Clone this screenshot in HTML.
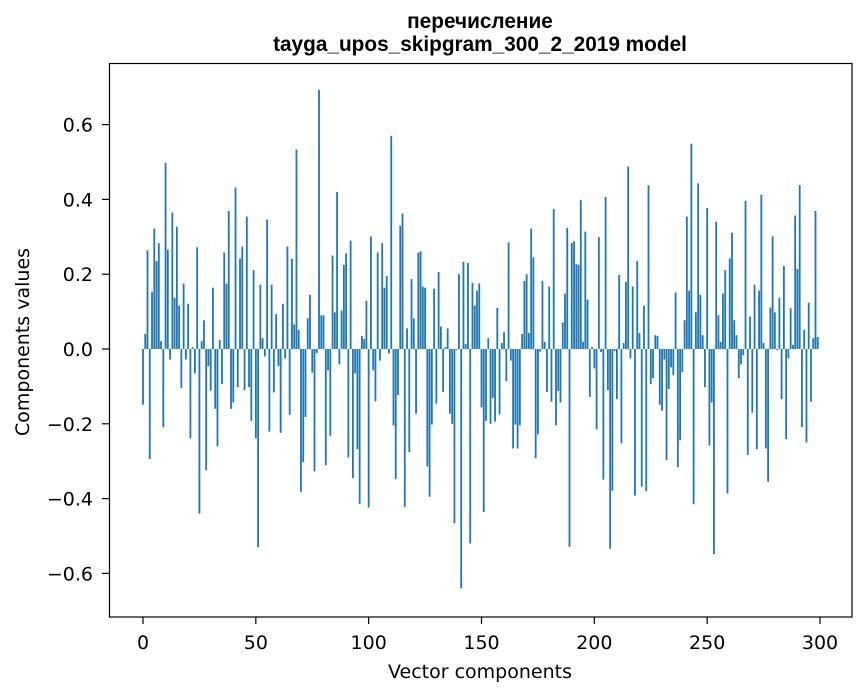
<!DOCTYPE html>
<html><head><meta charset="utf-8"><style>
html,body{margin:0;padding:0;background:#fff;}
svg{display:block;font-family:"DejaVu Sans","Liberation Sans",sans-serif;}
</style></head><body>
<svg id="chart" width="867" height="696" viewBox="0 0 867 696" xmlns="http://www.w3.org/2000/svg">
<rect width="867" height="696" fill="#fff"/>
<text x="480" y="28" text-anchor="middle" font-size="20.8" font-weight="bold" font-family="Liberation Sans, sans-serif">перечисление</text>
<text x="480" y="51" text-anchor="middle" font-size="20.8" font-weight="bold" font-family="Liberation Sans, sans-serif">tayga_upos_skipgram_300_2_2019 model</text>
<g id="bars"></g>
<g id="xticks"></g>
<g id="yticks"></g>
<rect x="109.5" y="63.5" width="742.5" height="553.5" fill="none" stroke="#000" stroke-width="1.2"/>
<text x="480" y="678" text-anchor="middle" font-size="19">Vector components</text>
<text transform="translate(29,342) rotate(-90)" text-anchor="middle" font-size="19">Components values</text>
</svg>
<script>
const values = [
-0.149,0.04,0.264,-0.294,0.153,0.322,0.235,0.283,0.021,-0.209,
0.498,0.266,-0.028,0.365,0.137,0.327,0.116,-0.104,0.175,-0.028,
0.121,-0.239,0.005,-0.065,0.272,-0.44,0.021,0.077,-0.324,-0.046,
-0.112,0.164,-0.16,-0.26,0.024,-0.094,0.258,0.175,0.369,-0.16,
-0.143,0.432,-0.102,0.242,0.274,-0.11,0.354,-0.102,-0.192,0.211,
-0.239,-0.53,0.172,0.029,-0.02,0.346,-0.221,0.172,-0.116,0.093,
-0.046,-0.224,0.121,-0.025,0.274,-0.176,0.241,0.066,0.533,0.051,
-0.382,-0.303,-0.182,0.082,0.145,-0.063,-0.327,-0.011,0.693,0.09,
0.09,-0.311,-0.057,-0.232,0.25,0.098,0.42,-0.041,0.103,0.225,
0.256,-0.29,0.29,-0.345,-0.065,-0.268,-0.414,0.035,0.027,0.129,
-0.424,0.301,-0.057,-0.14,0.258,-0.031,0.283,0.164,0.195,-0.012,
0.57,-0.204,-0.348,-0.123,0.33,0.362,-0.422,0.055,-0.276,0.187,
0.082,-0.173,0.258,0.261,0.167,0.164,-0.314,-0.395,-0.202,0.161,
-0.146,0.206,0.06,-0.115,0.005,0.055,-0.173,-0.2,-0.466,-0.003,
0.2,-0.64,0.233,0.013,0.23,-0.52,0.177,0.116,0.156,0.175,
-0.156,-0.436,-0.192,0.029,-0.2,-0.131,-0.194,0.11,-0.175,0.016,
0.045,-0.086,0.285,-0.031,-0.266,-0.202,-0.266,-0.204,0.04,0.182,
0.2,0.043,0.322,0.245,-0.292,-0.228,-0.007,0.182,0.019,-0.115,
0.167,-0.141,0.374,-0.204,-0.112,-0.143,0.071,0.148,0.324,-0.529,
0.283,0.288,0.227,0.225,0.398,0.019,0.314,0.132,-0.128,0.005,
-0.052,-0.215,0.299,-0.008,-0.349,0.406,-0.11,-0.534,-0.379,-0.005,
-0.134,0.198,-0.252,0.016,0.179,0.488,-0.025,0.167,-0.392,0.235,
0.043,-0.368,0.116,-0.38,0.438,-0.094,-0.078,0.037,0.035,-0.149,
-0.165,-0.028,-0.297,-0.107,-0.049,-0.07,0.151,-0.316,-0.244,-0.062,
0.077,0.354,0.156,0.549,-0.415,0.098,0.443,0.145,0.037,-0.102,
0.377,-0.258,-0.143,-0.548,0.34,0.09,0.019,0.148,0.211,-0.386,
0.242,0.311,0.077,0.037,-0.078,-0.041,-0.017,0.396,-0.283,0.087,
-0.17,0.172,-0.268,0.156,0.412,0.016,-0.266,-0.355,0.111,0.301,
0.098,-0.003,0.137,-0.134,0.222,-0.241,-0.025,0.109,0.011,0.357,
0.214,0.438,-0.209,0.051,-0.25,0.124,-0.141,0.029,0.369,0.032
];
const xTickValues = [0,50,100,150,200,250,300];
const yTickValues = [-0.6,-0.4,-0.2,0.0,0.2,0.4,0.6];
const yTickLabels = ["\u22120.6","\u22120.4","\u22120.2","0.0","0.2","0.4","0.6"];

const NS = "http://www.w3.org/2000/svg";
function xScale(i){ return 143 + i * (677/300); }
function yScale(v){ return 349 - v * 374; }
const barW = 0.8 * (677/300);

const barsG = document.getElementById('bars');
values.forEach((v, i) => {
  const r = document.createElementNS(NS, 'rect');
  const y0 = yScale(0), y1 = yScale(v);
  r.setAttribute('x', (xScale(i) - barW/2).toFixed(2));
  r.setAttribute('y', Math.min(y0, y1).toFixed(2));
  r.setAttribute('width', barW.toFixed(2));
  r.setAttribute('height', Math.max(Math.abs(y1 - y0), 0.3).toFixed(2));
  r.setAttribute('fill', '#1f77b4');
  
  
  barsG.appendChild(r);
});

const xg = document.getElementById('xticks');
xTickValues.forEach(t => {
  const x = xScale(t);
  const l = document.createElementNS(NS, 'line');
  l.setAttribute('x1', x); l.setAttribute('x2', x);
  l.setAttribute('y1', 617); l.setAttribute('y2', 624);
  l.setAttribute('stroke', '#000'); l.setAttribute('stroke-width', '1.2');
  
  
  xg.appendChild(l);
  const tx = document.createElementNS(NS, 'text');
  tx.setAttribute('x', x); tx.setAttribute('y', 649);
  tx.setAttribute('text-anchor', 'middle'); tx.setAttribute('font-size', '19');
  tx.textContent = String(t);
  
  
  xg.appendChild(tx);
});

const yg = document.getElementById('yticks');
yTickValues.forEach((t, k) => {
  const y = yScale(t);
  const l = document.createElementNS(NS, 'line');
  l.setAttribute('x1', 102); l.setAttribute('x2', 109);
  l.setAttribute('y1', y); l.setAttribute('y2', y);
  l.setAttribute('stroke', '#000'); l.setAttribute('stroke-width', '1.2');
  
  
  yg.appendChild(l);
  const tx = document.createElementNS(NS, 'text');
  tx.setAttribute('x', 93); tx.setAttribute('y', y + 7);
  tx.setAttribute('text-anchor', 'end'); tx.setAttribute('font-size', '19');
  tx.textContent = yTickLabels[k];
  
  
  yg.appendChild(tx);
});
</script>
</body></html>
